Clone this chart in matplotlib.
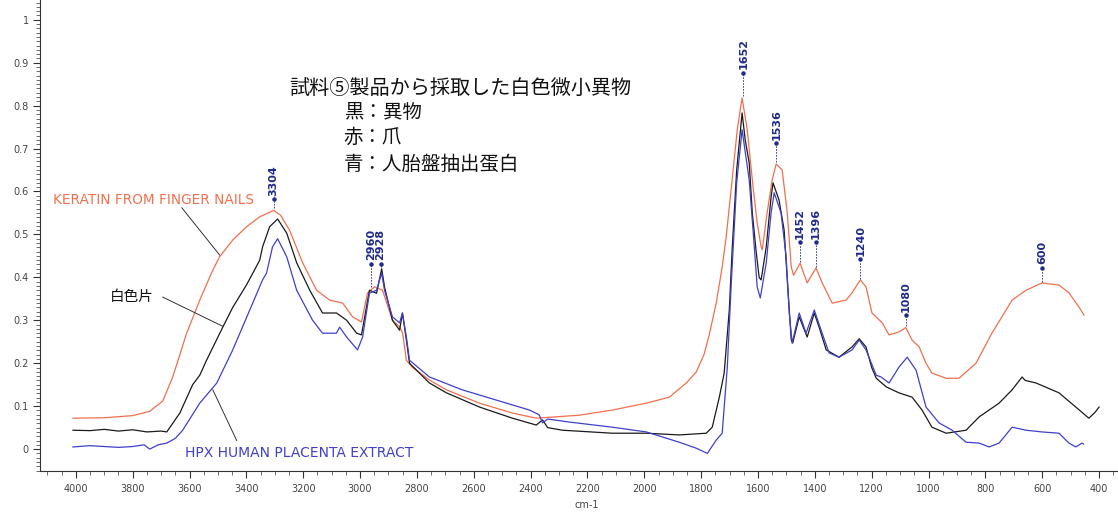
import matplotlib
matplotlib.use("Agg")
import matplotlib.pyplot as plt
from matplotlib.ticker import MultipleLocator, FuncFormatter

# ---------------- data (wavenumber cm-1, absorbance) ----------------
red_x = [4010, 3900, 3800, 3740, 3694, 3659, 3610, 3564, 3518, 3494, 3448, 3399, 3353, 3304, 3280,
         3248, 3202, 3153, 3107, 3061, 3026, 2995, 2974, 2949, 2921, 2886, 2861, 2850, 2837, 2815,
         2756, 2696, 2580, 2464, 2380, 2228, 2112, 1993, 1912, 1852, 1817, 1790, 1772, 1747, 1726,
         1712, 1691, 1673, 1656, 1638, 1620, 1603, 1589, 1585, 1568, 1550, 1536, 1515, 1497, 1483,
         1475, 1452, 1427, 1396, 1374, 1339, 1290, 1269, 1240, 1220, 1199, 1163, 1139, 1104, 1080,
         1058, 1033, 1009, 988, 938, 893, 833, 777, 706, 657, 601, 541, 506, 471, 453]
red_y = [0.072, 0.073, 0.078, 0.088, 0.112, 0.168, 0.27, 0.347, 0.417, 0.448, 0.487, 0.518, 0.541, 0.556, 0.545,
         0.51, 0.434, 0.37, 0.347, 0.34, 0.308, 0.296, 0.363, 0.378, 0.37, 0.30, 0.285, 0.27, 0.207, 0.19,
         0.161, 0.138, 0.107, 0.084, 0.072, 0.079, 0.091, 0.107, 0.121, 0.154, 0.18, 0.22, 0.265, 0.34, 0.424,
         0.494, 0.627, 0.744, 0.818, 0.744, 0.627, 0.527, 0.471, 0.464, 0.55, 0.627, 0.664, 0.65, 0.55, 0.424,
         0.405, 0.433, 0.387, 0.422, 0.387, 0.34, 0.347, 0.364, 0.394, 0.378, 0.317, 0.294, 0.266, 0.273, 0.283,
         0.254, 0.238, 0.2, 0.177, 0.165, 0.165, 0.2, 0.27, 0.347, 0.37, 0.387, 0.382, 0.364, 0.331, 0.312]

black_x = [4010, 3950, 3900, 3850, 3800, 3750, 3700, 3680, 3634, 3589, 3564, 3540, 3483, 3448, 3399,
           3353, 3343, 3318, 3290, 3258, 3223, 3177, 3132, 3083, 3047, 3012, 2995, 2967, 2942, 2924,
           2914, 2886, 2861, 2851, 2837, 2826, 2756, 2696, 2580, 2464, 2380, 2358, 2340, 2288, 2112,
           1993, 1877, 1782, 1761, 1736, 1719, 1701, 1691, 1675, 1656, 1645, 1631, 1620, 1606, 1596,
           1589, 1571, 1554, 1547, 1526, 1508, 1497, 1483, 1478, 1455, 1427, 1402, 1385, 1360, 1315,
           1269, 1244, 1220, 1200, 1184, 1149, 1104, 1058, 1023, 988, 938, 868, 822, 752, 706,
           671, 660, 622, 541, 482, 436, 415, 400]
black_y = [0.044, 0.043, 0.046, 0.042, 0.045, 0.04, 0.042, 0.04, 0.084, 0.15, 0.172, 0.207, 0.284, 0.33, 0.383,
           0.44, 0.471, 0.518, 0.536, 0.503, 0.434, 0.37, 0.317, 0.317, 0.30, 0.27, 0.266, 0.37, 0.363, 0.42,
           0.378, 0.30, 0.277, 0.317, 0.254, 0.2, 0.154, 0.131, 0.098, 0.072, 0.056, 0.068, 0.05, 0.044, 0.037,
           0.037, 0.033, 0.037, 0.051, 0.121, 0.177, 0.324, 0.464, 0.65, 0.783, 0.72, 0.667, 0.55, 0.457, 0.40,
           0.394, 0.471, 0.587, 0.62, 0.58, 0.51, 0.394, 0.254, 0.247, 0.308, 0.261, 0.317, 0.284, 0.231, 0.214,
           0.238, 0.257, 0.238, 0.19, 0.165, 0.145, 0.131, 0.121, 0.091, 0.051, 0.037, 0.044, 0.075, 0.107, 0.138,
           0.168, 0.16, 0.154, 0.131, 0.098, 0.072, 0.085, 0.098]

blue_x = [4010, 3950, 3900, 3850, 3800, 3760, 3740, 3710, 3680, 3650, 3624, 3564, 3504, 3448, 3388,
          3343, 3329, 3308, 3290, 3258, 3223, 3167, 3132, 3083, 3072, 3047, 3009, 2991, 2967, 2942,
          2924, 2914, 2886, 2861, 2851, 2837, 2826, 2756, 2640, 2520, 2404, 2370, 2358, 2340, 2264,
          2112, 1993, 1877, 1817, 1778, 1747, 1726, 1708, 1694, 1675, 1656, 1631, 1613, 1603, 1592,
          1571, 1554, 1543, 1519, 1501, 1490, 1480, 1455, 1431, 1402, 1378, 1350, 1315, 1269, 1244,
          1220, 1184, 1167, 1139, 1104, 1075, 1044, 1009, 963, 917, 868, 822, 787, 752, 706,
          657, 601, 541, 506, 482, 460, 455]
blue_y = [0.005, 0.008, 0.006, 0.004, 0.006, 0.01, 0.0, 0.01, 0.014, 0.025, 0.044, 0.107, 0.154, 0.231, 0.324,
          0.394, 0.41, 0.471, 0.49, 0.448, 0.37, 0.30, 0.27, 0.27, 0.284, 0.261, 0.231, 0.261, 0.363, 0.37,
          0.41, 0.37, 0.308, 0.294, 0.317, 0.261, 0.207, 0.168, 0.138, 0.114, 0.091, 0.08, 0.061, 0.07, 0.063,
          0.051, 0.040, 0.016, 0.002, -0.01, 0.021, 0.037, 0.191, 0.387, 0.62, 0.744, 0.627, 0.471, 0.378, 0.352,
          0.434, 0.55, 0.597, 0.55, 0.448, 0.317, 0.247, 0.317, 0.27, 0.324, 0.277, 0.224, 0.214, 0.231, 0.254,
          0.231, 0.172, 0.168, 0.154, 0.191, 0.214, 0.184, 0.098, 0.061, 0.044, 0.016, 0.014, 0.005, 0.014, 0.051,
          0.044, 0.040, 0.037, 0.014, 0.005, 0.014, 0.012]

peak_labels = ["3304", "2960", "2928", "1652", "1536", "1452", "1396", "1240", "1080", "600"]
peak_y = [0.558, 0.375, 0.42, 0.82, 0.665, 0.433, 0.422, 0.394, 0.284, 0.387]
x_ticks = [4000, 3800, 3600, 3400, 3200, 3000, 2800, 2600, 2400, 2200, 2000,
           1800, 1600, 1400, 1200, 1000, 800, 600, 400]
y_ticks = [0, 0.1, 0.2, 0.3, 0.4, 0.5, 0.6, 0.7, 0.8, 0.9, 1.0]

# label text bottom positions (layout)
label_text_y = [0.59, 0.44, 0.44, 0.885, 0.72, 0.49, 0.49, 0.45, 0.32, 0.43]

RED = "#f0704e"
BLACK = "#1a1a1a"
BLUE = "#4040cc"
NAVY = "#1f2a8c"

plt.rcParams['font.family'] = ['DejaVu Sans']
fig = plt.figure(figsize=(11.18, 5.13), dpi=100)
ax = fig.add_axes([40 / 1118, 42 / 513, 1 - 41 / 1118, 1 - 42 / 513])

ax.plot(red_x, red_y, color=RED, lw=0.9)
ax.plot(black_x, black_y, color=BLACK, lw=0.9)
ax.plot(blue_x, blue_y, color=BLUE, lw=0.9)

ax.set_xlim(4126, 337)
ax.set_ylim(-0.051, 1.046)

for s in ["top", "right"]:
    ax.spines[s].set_visible(False)
for s in ["left", "bottom"]:
    ax.spines[s].set_color("#333333")
    ax.spines[s].set_linewidth(0.8)

ax.set_xticks(x_ticks)
ax.set_xticklabels([str(v) for v in x_ticks])
ax.xaxis.set_minor_locator(MultipleLocator(50))
ax.set_yticks(y_ticks)
ax.yaxis.set_major_formatter(FuncFormatter(lambda v, p: f"{v:g}"))
ax.yaxis.set_minor_locator(MultipleLocator(0.01))
ax.tick_params(axis="both", which="major", length=5, width=0.8, labelsize=7,
               colors="#333333", labelcolor="#444444", direction="out")
ax.tick_params(axis="both", which="minor", length=3, width=0.6, colors="#555555", direction="out")
ax.tick_params(axis="x", which="major", pad=4)
ax.tick_params(axis="y", which="major", pad=3)

# axis unit label
ax.text(2204, -0.072, "cm-1", transform=ax.get_xaxis_transform(), ha="center", va="center",
        fontsize=7, color="#444444")

# peak annotations
for lab, py, ty in zip(peak_labels, peak_y, label_text_y):
    xv = float(lab)
    ax.plot([xv, xv], [py + 0.003, ty - 0.012], color=NAVY, lw=0.6, ls=(0, (2, 1.5)))
    ax.plot([xv], [ty - 0.008], marker="o", ms=2.2, color=NAVY)
    ax.text(xv, ty, lab, rotation=90, ha="center", va="bottom", fontsize=8,
            color=NAVY, fontweight="bold")

# Japanese annotation block
jp = ['Noto Sans CJK JP', 'DejaVu Sans']
ax.text(3248, 0.841, "試料⑤製品から採取した白色微小異物", family=jp, fontsize=14.5,
        ha="left", va="center", color="#111111")
ax.text(3058, 0.783, "黒：異物", family=jp, fontsize=14, ha="left", va="center", color="#111111")
ax.text(3058, 0.725, "赤：爪", family=jp, fontsize=14, ha="left", va="center", color="#111111")
ax.text(3058, 0.664, "青：人胎盤抽出蛋白", family=jp, fontsize=14, ha="left", va="center", color="#111111")

# series labels with leader lines
ax.text(4081, 0.58, "KERATIN FROM FINGER NAILS", fontsize=9.8, color=RED, ha="left", va="center")
ax.plot([3627, 3494], [0.562, 0.452], color="#333333", lw=0.7)
ax.text(3880, 0.354, "白色片", family=jp, fontsize=10.5, color="#111111", ha="left", va="center")
ax.plot([3694, 3483], [0.354, 0.286], color="#333333", lw=0.7)
ax.text(3617, -0.01, "HPX HUMAN PLACENTA EXTRACT", fontsize=10, color=BLUE, ha="left", va="center")
ax.plot([3518, 3434], [0.138, 0.02], color="#333333", lw=0.7)

fig.savefig("out.png", dpi=100)
